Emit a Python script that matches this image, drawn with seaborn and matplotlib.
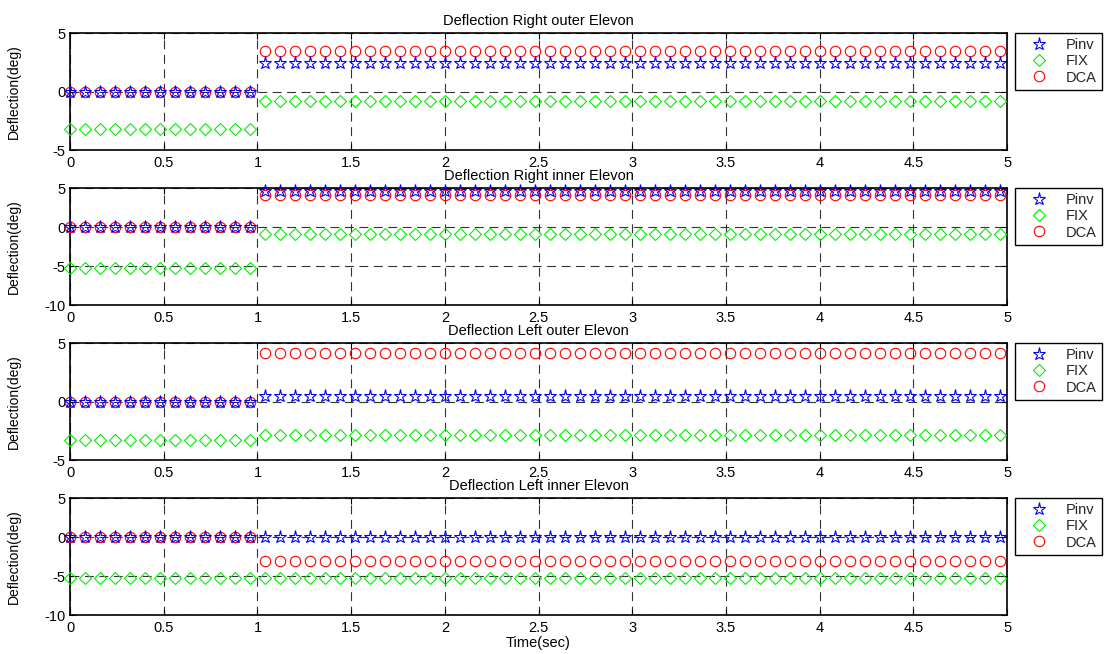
import numpy as np
import pandas as pd
import matplotlib
matplotlib.use("Agg")
import matplotlib.pyplot as plt
from matplotlib.ticker import FuncFormatter
import seaborn as sns

# Sample times (s): one marker every 0.08 s over 0..5 s
dt = 0.08
n_pre = 13      # samples before the switch at t = 1 s
n_post = 50     # samples after the switch
time = np.round(np.arange(n_pre + n_post) * dt, 2)

titles = [
    "Deflection Right outer Elevon",
    "Deflection Right inner Elevon",
    "Deflection Left outer Elevon",
    "Deflection Left inner Elevon",
]
methods = ["Pinv", "FIX", "DCA"]

# Deflection levels (deg) per surface, before / after t = 1 s
pinv_pre = [0.0, 0.0, 0.0, 0.0]
pinv_post = [2.45, 4.6, 0.43, 0.0]
fix_pre = [-3.22, -5.3, -3.28, -5.3]
fix_post = [-0.8, -0.95, -2.9, -5.25]
dca_pre = [0.0, 0.0, 0.0, 0.0]
dca_post = [3.5, 4.15, 4.15, -3.1]

y_limits = [(-5, 5), (-10, 5), (-5, 5), (-10, 5)]
y_ticks = [[-5, 0, 5], [-10, -5, 0, 5], [-5, 0, 5], [-10, -5, 0, 5]]
x_ticks = [0, 0.5, 1, 1.5, 2, 2.5, 3, 3.5, 4, 4.5, 5]

styles = {
    "Pinv": dict(marker="*", color="#0000ff", ms=9.5),
    "FIX": dict(marker="D", color="#00ee00", ms=6.2),
    "DCA": dict(marker="o", color="#ff0000", ms=7.5),
}

sns.set_theme(style="white")
plt.rcParams["font.family"] = ["Liberation Sans", "DejaVu Sans"]
plt.rcParams["axes.unicode_minus"] = False

fig, axes = plt.subplots(4, 1, figsize=(11.12, 6.54), dpi=100)

left, width, height = 0.063, 0.8426, 0.1789
bottoms = [0.7706, 0.5336, 0.2966, 0.0596]

for i, ax in enumerate(axes):
    ax.set_position([left, bottoms[i], width, height])
    series = {
        "Pinv": [pinv_pre[i]] * n_pre + [pinv_post[i]] * n_post,
        "FIX": [fix_pre[i]] * n_pre + [fix_post[i]] * n_post,
        "DCA": [dca_pre[i]] * n_pre + [dca_post[i]] * n_post,
    }
    df = pd.DataFrame({"time": time, **series})
    for name in ["FIX", "DCA", "Pinv"]:
        st = styles[name]
        sns.lineplot(data=df, x="time", y=name, ax=ax, linestyle="",
                     marker=st["marker"], markersize=st["ms"],
                     markerfacecolor="none", markeredgecolor=st["color"],
                     markeredgewidth=0.8, color=st["color"], label=name,
                     clip_on=False, zorder=3, legend=False)

    ax.set_xlim(0, 5)
    ax.set_ylim(*y_limits[i])
    ax.set_xticks(x_ticks)
    ax.set_yticks(y_ticks[i])
    ax.xaxis.set_major_formatter(FuncFormatter(lambda v, p: f"{v:g}"))
    ax.grid(True, color="#333333", linestyle=(0, (8, 5)), linewidth=0.8)
    ax.set_axisbelow(True)
    for sp in ax.spines.values():
        sp.set_color("black")
        sp.set_linewidth(1.2)
    ax.tick_params(direction="in", bottom=True, left=True, top=True,
                   right=True, length=4, width=0.8, labelsize=10.5,
                   colors="black", pad=3.5)
    ax.tick_params(axis="x", pad=4)
    ax.set_title(titles[i], fontsize=10.5, pad=6, color="black")
    ax.set_ylabel("Deflection(deg)", fontsize=10, color="black")
    ax.yaxis.set_label_coords(-0.053, 0.5)
    ax.set_xlabel("Time(sec)" if i == 3 else "", fontsize=10.5,
                  color="black", labelpad=1)

    handles, labels = ax.get_legend_handles_labels()
    order = [labels.index(m) for m in methods]
    leg = ax.legend([handles[k] for k in order], methods,
                    loc="upper left", bbox_to_anchor=(1.0085, 1.0),
                    borderaxespad=0, fontsize=10.5, frameon=True,
                    fancybox=False, framealpha=1, edgecolor="black",
                    handlelength=2.6, handletextpad=0.55, labelspacing=0.15,
                    borderpad=0.35)
    leg.get_frame().set_linewidth(1.0)

fig.savefig("out.png", dpi=100, facecolor="white")
